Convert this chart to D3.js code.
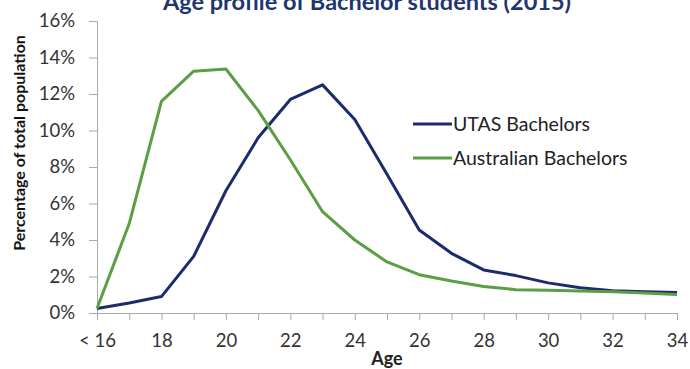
<!DOCTYPE html>
<html><head><meta charset="utf-8">
<script src="https://cdn.jsdelivr.net/npm/d3@7"></script>
<style>
body{margin:0;background:#fff;}
svg{display:block;font-family:Lato,"Open Sans",sans-serif;}
</style></head>
<body><svg id="c" width="690" height="369"></svg>
<script>
const ages = [16,17,18,19,20,21,22,23,24,25,26,27,28,29,30,31,32,33,34];
const utas = [0.25,0.55,0.9,3.1,6.7,9.6,11.7,12.5,10.6,7.6,4.55,3.27,2.36,2.05,1.65,1.38,1.22,1.17,1.12];
const australian = [0.25,4.9,11.6,13.25,13.37,11.1,8.4,5.55,4.0,2.8,2.1,1.75,1.45,1.28,1.24,1.2,1.16,1.09,1.02];
const seriesNames = ["UTAS Bachelors","Australian Bachelors"];
const yTicks = [0,2,4,6,8,10,12,14,16];
const xTickLabels = {16:"< 16",18:"18",20:"20",22:"22",24:"24",26:"26",28:"28",30:"30",32:"32",34:"34"};
const title = "Age profile of Bachelor students (2015)";
const yTitle = "Percentage of total population";
const xTitle = "Age";

const colors = ["#1c2b6c","#5b9e44"];
const svg = d3.select("#c");
const x = d3.scaleLinear().domain([16,34]).range([97,677]);
const y = d3.scaleLinear().domain([0,16]).range([313,21]);

// axes
const xAxis = d3.axisBottom(x).tickValues(ages).tickSize(7).tickPadding(14)
  .tickFormat(d => xTickLabels[d] || "");
const gx = svg.append("g").attr("transform","translate(0,313)").call(xAxis);
const yAxis = d3.axisLeft(y).tickValues(yTicks).tickSize(8).tickPadding(14)
  .tickFormat(d => d + "%");
const gy = svg.append("g").attr("transform","translate(97,0)").call(yAxis);
[gx,gy].forEach(g=>{
  g.selectAll(".domain").attr("stroke","#a9a9a9").attr("stroke-width",1);
  g.selectAll(".tick line").attr("stroke","#a9a9a9");
  g.selectAll("text").attr("fill","#333").style("font-size","18.5px").style("font-family","Lato");
});

// lines
const line = d3.line().x((d,i)=>x(ages[i])).y(d=>y(d));
[utas,australian].forEach((s,k)=>{
  svg.append("path").datum(s).attr("d",line).attr("fill","none")
    .attr("stroke",colors[k]).attr("stroke-width",3).attr("stroke-linejoin","round");
});

// legend
const legY = [124,158];
seriesNames.forEach((n,k)=>{
  svg.append("line").attr("x1",413).attr("x2",452).attr("y1",legY[k]).attr("y2",legY[k])
    .attr("stroke",colors[k]).attr("stroke-width",3);
  svg.append("text").attr("x",453).attr("y",legY[k]).attr("dy","0.36em")
    .attr("fill","#222").style("font-size","19.5px").text(n);
});

// titles
svg.append("text").attr("x",367).attr("y",10).attr("text-anchor","middle")
  .attr("fill","#1f3570").style("font-size","23.5px").style("font-weight","bold").text(title);
svg.append("text").attr("transform","translate(25,143) rotate(-90)").attr("text-anchor","middle")
  .attr("fill","#111").style("font-size","16px").style("font-weight","bold").text(yTitle);
svg.append("text").attr("x",387).attr("y",365).attr("text-anchor","middle")
  .attr("fill","#222").style("font-size","18px").style("font-weight","bold").text(xTitle);
</script></body></html>
